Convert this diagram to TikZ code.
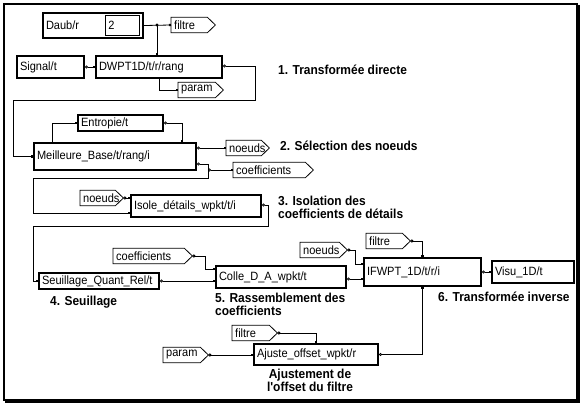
\documentclass[tikz,border=0pt]{standalone}
\usepackage{fontspec}
\setmainfont{Liberation Sans}
\newfontfamily\labfont{Liberation Sans}[FakeStretch=0.92]
\newfontfamily\notefont{Liberation Sans Bold}[FakeStretch=0.92]
\usetikzlibrary{arrows.meta}
\begin{document}
\begin{tikzpicture}[x=1pt,y=-1pt,
  lab/.style={font=\labfont\fontsize{12}{13}\selectfont},
  blk/.style={draw, line width=2pt, lab, text width=#1, inner xsep=3pt, inner ysep=0pt, align=left, anchor=north west},
  thinblk/.style={draw, line width=0.8pt, lab, text width=#1, inner xsep=3pt, inner ysep=0pt, align=left, anchor=north west},
  tag/.style={lab, text width=#1, inner xsep=3pt, inner ysep=0pt, minimum height=15pt, align=left, anchor=west},
  tagline/.style={line width=0.8pt},
  conn/.style={line width=0.8pt, -{Square[length=2.2pt,width=2.2pt]}},
  oconn/.style={line width=0.8pt, {Circle[open,length=3pt,width=3pt]}-{Square[length=2.2pt,width=2.2pt]}},
  note/.style={font=\notefont\fontsize{13}{13}\selectfont, inner sep=0pt, anchor=west, align=left},
]
\useasboundingbox (0,0) rectangle (583,405);
% frame
\draw[line width=2pt] (4,4) rectangle (576.5,399.5);
\draw[line width=2pt] (578.5,5) -- (578.5,401.5) -- (5,401.5);

% blocks
\node[blk=94pt, minimum height=25pt] (daub) at (42,12) {Daub/r};
\node[thinblk=28pt, minimum height=20pt] (two) at (105,15) {2};
\node[blk=61pt, minimum height=22pt] (signal) at (16,55) {Signal/t};
\node[blk=120pt, minimum height=22pt] (dwpt) at (95,55) {DWPT1D/t/r/rang};
\node[blk=79pt, minimum height=16pt] (entropie) at (77,114) {Entropie/t};
\node[blk=156pt, minimum height=27pt] (meilleure) at (33,142) {Meilleure\_Base/t/rang/i};
\node[blk=124pt, minimum height=22pt] (isole) at (130,194) {Isole\_détails\_wpkt/t/i};
\node[blk=114pt, minimum height=16pt] (seuil) at (38,272) {Seuillage\_Quant\_Rel/t};
\node[blk=124pt, minimum height=22pt] (colle) at (215,265) {Colle\_D\_A\_wpkt/t};
\node[blk=111pt, minimum height=28pt] (ifwpt) at (363,257) {IFWPT\_1D/t/r/i};
\node[blk=76pt, minimum height=22pt] (visu) at (491,260) {Visu\_1D/t};
\node[blk=118pt, minimum height=21pt] (ajuste) at (253,343) {Ajuste\_offset\_wpkt/r};

% tags
\node[tag=38pt] (filtreA) at (171,25) {filtre};
\node[tag=39pt] (paramA) at (178,90) {param};
\node[tag=37pt] (noeudsA) at (226,148) {noeuds};
\node[tag=74pt] (coefA) at (233,170) {coefficients};
\node[tag=37pt] (noeudsB) at (80,198) {noeuds};
\node[tag=73pt] (coefB) at (113,256) {coefficients};
\node[tag=38pt] (filtreB) at (366,241) {filtre};
\node[tag=41pt] (noeudsC) at (300,250) {noeuds};
\node[tag=39pt] (filtreC) at (232,333) {filtre};
\node[tag=39pt] (paramB) at (163,355) {param};
\foreach \t in {filtreA,paramA,noeudsA,coefA,noeudsB,coefB,filtreB,noeudsC,filtreC,paramB}
  \draw[tagline] (\t.north west) -- ([xshift=-8pt]\t.north east) -- (\t.east)
     -- ([xshift=-8pt]\t.south east) -- (\t.south west) -- cycle;

% connectors
\coordinate (jA) at (157,25);
\draw[conn] (daub.east) -- (filtreA.west);
\fill (jA) circle (1.6pt);
\draw[conn] (jA) -- (jA |- dwpt.north);
\draw[oconn] (signal.east) -- (dwpt.west);
\draw[conn] (dwpt.south) |- (paramA.west);
\coordinate (r1) at (255,100);
\coordinate (l1) at (13,100);
\draw[oconn] ([yshift=1pt]dwpt.east) -| (r1) -- (l1) |- (meilleure.west);
\draw[conn] ([xshift=19pt]meilleure.north west) |- (entropie.west);
\draw[oconn] (entropie.east) -| ([xshift=-15pt]meilleure.north east);
\draw[oconn] ([yshift=-6pt]meilleure.north east) -- (noeudsA.west);
\coordinate (j2) at (208,170);
\coordinate (k1) at (208,178);
\coordinate (k2) at (33,178);
\draw[oconn] ([yshift=7pt]meilleure.south east) -| (k1) -- (k2) |- ([yshift=5pt]isole.south west);
\draw[oconn] (j2) -- (coefA.west);
\draw[oconn] (noeudsB.east) -- (noeudsB.east -| isole.west);
\coordinate (m1) at (268,226);
\coordinate (m2) at (33,226);
\draw[oconn] ([yshift=-11pt]isole.north east) -| (m1) -- (m2) |- (seuil.west);
\draw[oconn] (seuil.east) -- (seuil.east -| colle.west);
\coordinate (n1) at (205,256);
\draw[oconn] (coefB.east) -- (n1) |- ([yshift=-4pt]colle.north west);
\draw[oconn] ([yshift=10pt]colle.south east) -- ([yshift=10pt]colle.south east -| ifwpt.west);
\coordinate (p1) at (355,250);
\draw[oconn] (noeudsC.east) -- (p1) |- ([yshift=-7pt]ifwpt.north west);
\draw[oconn] (filtreB.east) -| (ifwpt.north);
\draw[oconn] (ifwpt.east) -- (ifwpt.east -| visu.west);
\draw[oconn] (ajuste.east) -| (ifwpt.south);
\draw[oconn] (filtreC.east) -| (ajuste.north);
\draw[oconn] (paramB.east) -- (paramB.east -| ajuste.west);

% notes
\node[note] (t1) at (278,70) {1. Transformée directe};
\node[note] (t2) at (280,146) {2. Sélection des noeuds};
\node[note] (t3) at (278,207) {3. Isolation des\\coefficients de détails};
\node[note] (t4) at (50,302) {4. Seuillage};
\node[note] (t5) at (215,304.5) {5. Rassemblement des\\coefficients};
\node[note] (t6) at (438,297) {6. Transformée inverse};
\node[note, anchor=center, align=center] (t7) at (310,380) {Ajustement de\\l'offset du filtre};
\end{tikzpicture}
\end{document}
